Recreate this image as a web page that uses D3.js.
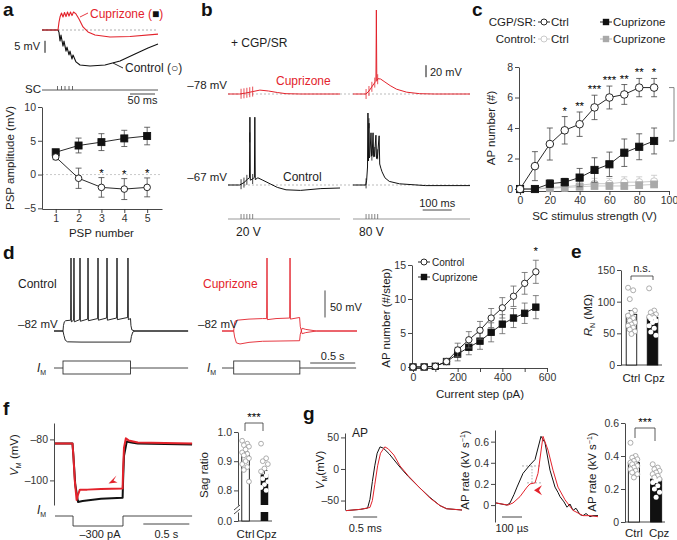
<!DOCTYPE html>
<html>
<head>
<meta charset="utf-8">
<script src="https://cdn.jsdelivr.net/npm/d3@7/dist/d3.min.js"></script>
<style>
html,body{margin:0;padding:0;background:#fff;}
svg{display:block;}
</style>
</head>
<body>
<svg id="fig" width="677" height="540"></svg>
<script>
// ======================= DATA =======================
// Panel a : PSP amplitudes
const pspNumber = [1, 2, 3, 4, 5];
const pspCpz = [3.3, 4.3, 4.8, 5.35, 5.7];
const pspCpzErr = [0.4, 1.1, 1.25, 1.2, 1.3];
const pspCtrl = [2.6, -0.55, -1.9, -2.15, -1.9];
const pspCtrlErr = [0.4, 1.5, 1.45, 1.55, 1.4];
const pspSig = ["", "", "*", "*", "*"];
const pspYTicks = [-5, 0, 5, 10];
// Panel a traces (ms, mV relative to baseline)
const scStimA = [31, 39, 46, 54, 61];
const traceA_cpz = [[0,0],[32,0],[34,3.3],[36,5.4],[39,7.1],[42,5.4],[45,7.3],[48,5.6],[51,7.5],[54,5.8],[57,7.5],[60,6.0],[63,7.5],[68,6.7],[74,4.6],[82,1.3],[92,-0.8],[106,-2.1],[136,-2.9],[176,-2.7],[232,-1.7]];
const traceA_ctrl = [[0,0],[32,0],[34,-1],[36,-4.6],[38,-2.1],[42,-6.7],[44,-4.6],[48,-8.8],[50,-7.1],[54,-10.4],[56,-8.8],[60,-12.1],[62,-10.4],[68,-13.3],[76,-14.6],[96,-15],[126,-14.6],[156,-12.9],[186,-10],[212,-7.5],[232,-5.8]];

// Panel b traces (ms, mV relative to resting potential)
const scStimB = [45, 55, 65, 75, 85];
const traceB_cpz20 = [[0,0],[40,0],[60,1.5],[85,4],[110,6.5],[140,5],[170,2.5],[200,0.5],[250,0],[386,0]];
const traceB_cpz80 = [[0,0],[45,0],[55,5],[65,12],[75,19],[79,21],[80.5,140],[82,22],[86,25.5],[95,25],[110,20],[128,14],[150,8],[185,3],[230,0.5],[280,0],[403,0]];
const traceB_ctl20 = [[0,0],[40,0],[55,4],[68,10],[74,12],[75.5,113],[77,8],[85,10],[91,13],[92.5,113],[94,9],[103,12],[120,8],[145,2],[170,-4],[200,-8],[250,-9],[320,-6],[386,-5]];
const traceB_ctl80 = [[0,0],[44,0],[47,8],[50,30],[51.5,120],[53,40],[55,103],[56.5,45],[58,48],[62,87],[64,48],[66,50],[69,87],[71,47],[74,48],[79,83],[81,44],[84,45],[90,82],[92,35],[96,28],[100,22],[110,12],[125,6],[160,2],[250,-1],[403,-1]];

// Panel c : AP number vs SC stimulus
const stimVolts = [0, 10, 20, 30, 40, 50, 60, 70, 80, 90];
const cgpCtrl = [0, 1.5, 2.95, 3.85, 4.25, 5.35, 6.0, 6.2, 6.65, 6.65];
const cgpCtrlErr = [0, 0.95, 1.05, 0.9, 0.8, 0.8, 0.75, 0.65, 0.6, 0.6];
const cgpCpz = [0, 0, 0.35, 0.45, 0.75, 1.25, 1.62, 2.38, 2.77, 3.15];
const cgpCpzErr = [0, 0, 0.25, 0.25, 0.6, 0.8, 0.8, 0.9, 0.85, 0.85];
const conCtrl = [0, 0, 0.1, 0.15, 0.25, 0.35, 0.35, 0.45, 0.45, 0.5];
const conCtrlErr = [0, 0, 0.25, 0.3, 0.3, 0.35, 0.35, 0.35, 0.35, 0.4];
const conCpz = [0, 0, 0.05, 0.1, 0.15, 0.2, 0.2, 0.2, 0.25, 0.3];
const conCpzErr = [0, 0, 0.1, 0.1, 0.15, 0.15, 0.15, 0.2, 0.2, 0.2];
const stimSig = ["", "", "", "*", "**", "***", "***", "**", "**", "*"];

// Panel d traces (s, mV)
const stepCtl = [0.1, 0.85];
const stepCpzT = [0.13, 0.865];
const traceD_ctlUp = [[0,-82],[0.1,-82],[0.105,-72],[0.115,-65],[0.13,-63],[0.185,-62],[0.189,53],[0.193,-65],[0.218,-62],[0.222,53],[0.226,-65],[0.285,-61],[0.289,53],[0.293,-64],[0.374,-60],[0.378,53],[0.382,-63],[0.485,-59],[0.489,53],[0.493,-62],[0.585,-58],[0.589,53],[0.593,-62],[0.696,-58],[0.7,53],[0.704,-61],[0.818,-57],[0.822,53],[0.826,-61],[0.85,-59],[0.855,-72],[0.865,-80],[0.9,-82],[1.49,-82]];
const traceD_ctlDn = [[0,-82],[0.1,-82],[0.11,-90],[0.125,-99],[0.15,-102],[0.3,-102.5],[0.85,-102.5],[0.86,-92],[0.875,-84],[0.9,-82],[1.49,-82]];
const traceD_cpzUp = [[0,-82],[0.13,-82],[0.135,-72],[0.145,-64],[0.17,-62],[0.3,-60],[0.45,-59],[0.496,-59],[0.5,53],[0.504,-61],[0.6,-59],[0.752,-58],[0.756,53],[0.76,-60],[0.862,-57],[0.87,-74],[0.89,-87],[0.93,-85],[1.05,-82],[1.5,-82]];
const traceD_cpzDn = [[0,-82],[0.13,-82],[0.14,-93],[0.16,-104],[0.2,-106],[0.3,-103],[0.45,-101],[0.862,-100],[0.87,-88],[0.89,-77],[0.93,-79],[1.05,-82],[1.5,-82]];

// Panel d right : AP number vs current step
const stepPA = [0, 50, 100, 150, 200, 250, 300, 350, 400, 450, 500, 550];
const stepCtrl = [0, 0, 0.1, 0.8, 2.5, 4.0, 5.4, 7.2, 8.7, 10.4, 12.3, 14.0];
const stepCtrlErr = [0, 0, 0.1, 0.4, 1.0, 1.2, 1.3, 1.4, 1.5, 1.5, 1.6, 1.7];
const stepCpz = [0, 0, 0.1, 0.8, 1.9, 2.9, 3.8, 5.1, 6.3, 7.2, 7.9, 8.8];
const stepCpzErr = [0, 0, 0.1, 0.4, 1.0, 1.1, 1.2, 1.4, 1.4, 1.4, 1.5, 1.7];
const stepSig = ["", "", "", "", "", "", "", "", "", "", "", "*"];

// Panel e : input resistance
const rnGroups = ["Ctrl", "Cpz"];
const rnMean = [80, 75];
const rnErr = [6, 4];
const rnCtrl = [122, 118, 104, 86, 82, 78, 74, 70, 67, 64, 62, 59, 56, 53, 49];
const rnCpz = [121, 86, 83, 80, 77, 76, 75, 73, 70, 67, 62, 58, 52, 47];

// Panel f traces (s, mV)
const stepF = [0.196, 0.739];
const traceF_ctl = [[0,-82],[0.19,-82],[0.2,-88],[0.22,-102],[0.25,-110.5],[0.3,-110],[0.5,-109],[0.735,-108.5],[0.74,-100],[0.75,-88],[0.78,-81],[0.83,-81.5],[0.9,-82],[1.49,-82.5]];
const traceF_cpz = [[0,-82],[0.19,-82],[0.2,-88],[0.215,-100],[0.235,-109.5],[0.25,-107],[0.27,-104.5],[0.35,-104.5],[0.5,-104.2],[0.735,-104],[0.74,-95],[0.75,-84],[0.77,-79.5],[0.8,-80.5],[0.9,-81.5],[1.49,-82]];
// Panel f : sag ratio
const sagMean = [0.92, 0.855];
const sagErr = [0.012, 0.013];
const sagCtrl = [0.97, 0.96, 0.955, 0.95, 0.94, 0.93, 0.925, 0.92, 0.91, 0.90, 0.89, 0.88, 0.87, 0.83];
const sagCpz = [0.96, 0.91, 0.90, 0.89, 0.875, 0.865, 0.85, 0.84, 0.83, 0.82, 0.81, 0.80];

// Panel g traces
const traceG_ctl = [[0,-66],[0.3,-64],[0.45,-62],[0.5,-48],[0.55,-20],[0.6,5],[0.65,25],[0.71,35],[0.78,33],[0.9,24],[1.125,3],[1.3,-12],[1.54,-30],[1.75,-45],[1.96,-58],[2.1,-63],[2.42,-65]];
const traceG_cpz = [[0,-66],[0.3,-64],[0.5,-61],[0.55,-50],[0.6,-25],[0.66,5],[0.72,25],[0.81,35],[0.88,32],[1.0,22],[1.125,5],[1.3,-11],[1.54,-30],[1.75,-46],[1.96,-58],[2.1,-63],[2.42,-65]];
const rateG_ctl = [[0,0.02],[55,0.0],[70,0.02],[90,0.1],[105,0.17],[135,0.3],[170,0.38],[195,0.43],[225,0.65],[245,0.59],[270,0.33],[295,0.17],[310,0.12],[320,0.08],[340,0.03],[355,-0.02],[370,0.01],[385,-0.05],[400,-0.03],[420,-0.09],[435,-0.1],[450,-0.08],[470,-0.11],[485,-0.1],[510,-0.1]];
const rateG_cpz = [[0,0.02],[60,0.0],[85,0.02],[120,0.08],[155,0.17],[170,0.2],[195,0.21],[210,0.3],[235,0.65],[260,0.52],[285,0.33],[310,0.17],[345,0.05],[385,-0.05],[435,-0.1],[470,-0.1],[510,-0.11]];
const rateMarks = [0.37, 0.21];
// Panel g : AP rate bars
const apMean = [0.36, 0.26];
const apErr = [0.015, 0.015];
const apCtrl = [0.48, 0.40, 0.39, 0.38, 0.37, 0.36, 0.35, 0.35, 0.34, 0.33, 0.32, 0.31, 0.30, 0.29, 0.27];
const apCpz = [0.35, 0.33, 0.32, 0.31, 0.30, 0.29, 0.28, 0.27, 0.26, 0.25, 0.24, 0.22, 0.20, 0.18, 0.15];

// ======================= DRAWING =======================
const FONT = "'Liberation Sans', Arial, Helvetica, sans-serif";
const svg = d3.select("#fig").attr("font-family", FONT);
svg.append("rect").attr("width", 677).attr("height", 540).attr("fill", "#fff");
const RED = "#e3232c", AX = "#333", TX = "#1d1d1d", GL = "#c4c4c4";

function text(x, y, s, o = {}) {
  const t = svg.append("text").attr("x", x).attr("y", y)
    .attr("font-size", o.size || 11).attr("fill", o.fill || TX)
    .attr("text-anchor", o.anchor || "start").text(s);
  if (o.weight) t.attr("font-weight", o.weight);
  return t;
}
function rich(x, y, parts, o = {}) {
  const size = o.size || 11;
  const t = svg.append("text").attr("font-size", size).attr("fill", o.fill || TX)
    .attr("text-anchor", o.anchor || "start");
  if (o.rotate) t.attr("transform", `translate(${x},${y}) rotate(-90)`);
  else t.attr("x", x).attr("y", y);
  parts.forEach(p => {
    const s = t.append("tspan").text(p.t);
    if (p.i) s.attr("font-style", "italic");
    if (p.fs) s.attr("font-size", p.fs);
    if (p.dy) s.attr("dy", p.dy);
    if (p.fill) s.attr("fill", p.fill);
  });
  return t;
}
function hline(x1, x2, y, c, w, dash) {
  const l = svg.append("line").attr("x1", x1).attr("x2", x2).attr("y1", y).attr("y2", y)
    .attr("stroke", c || AX).attr("stroke-width", w || 1);
  if (dash) l.attr("stroke-dasharray", dash);
  return l;
}
function vline(x, y1, y2, c, w) {
  return svg.append("line").attr("x1", x).attr("x2", x).attr("y1", y1).attr("y2", y2)
    .attr("stroke", c || AX).attr("stroke-width", w || 1);
}
function trace(pts, xs, ys, color, w) {
  svg.append("path").datum(pts)
    .attr("d", d3.line().x(d => xs(d[0])).y(d => ys(d[1])))
    .attr("fill", "none").attr("stroke", color).attr("stroke-width", w || 1)
    .attr("stroke-linejoin", "round");
}
function interp(pts, t) {
  for (let i = 1; i < pts.length; i++) {
    if (t <= pts[i][0]) {
      const a = pts[i - 1], b = pts[i];
      return a[1] + (b[1] - a[1]) * (t - a[0]) / (b[0] - a[0]);
    }
  }
  return pts[pts.length - 1][1];
}
function styleAxis(g, fs) {
  g.attr("font-family", FONT).attr("font-size", fs || 10.5);
  g.select(".domain").attr("stroke", AX).attr("stroke-width", 0.9);
  g.selectAll(".tick line").attr("stroke", AX).attr("stroke-width", 0.9);
  g.selectAll(".tick text").attr("fill", "#333");
}
function yAxis(scale, x, ticks, fmt, fs) {
  const g = svg.append("g").attr("transform", `translate(${x},0)`)
    .call(d3.axisLeft(scale).tickValues(ticks).tickSize(4).tickPadding(2).tickSizeOuter(0)
      .tickFormat(fmt || d3.format("d")));
  styleAxis(g, fs);
  return g;
}
function xAxis(scale, y, ticks, fmt, fs) {
  const g = svg.append("g").attr("transform", `translate(0,${y})`)
    .call(d3.axisBottom(scale).tickValues(ticks).tickSize(4).tickPadding(2).tickSizeOuter(0)
      .tickFormat(fmt || d3.format("d")));
  styleAxis(g, fs);
  return g;
}
function series(xs, ys, X, Y, E, o) {
  const g = svg.append("g");
  X.forEach((x, i) => {
    if (!E || !E[i]) return;
    const cx = xs(x), y1 = ys(Y[i] - E[i]), y2 = ys(Y[i] + E[i]);
    g.append("line").attr("x1", cx).attr("x2", cx).attr("y1", y1).attr("y2", y2)
      .attr("stroke", o.err).attr("stroke-width", 0.8);
    [y1, y2].forEach(yy => g.append("line").attr("x1", cx - o.cap).attr("x2", cx + o.cap)
      .attr("y1", yy).attr("y2", yy).attr("stroke", o.err).attr("stroke-width", 0.8));
  });
  g.append("path").datum(X.map((x, i) => [x, Y[i]]))
    .attr("d", d3.line().x(d => xs(d[0])).y(d => ys(d[1])))
    .attr("fill", "none").attr("stroke", o.line).attr("stroke-width", 0.9);
  g.selectAll(".m").data(X.map((x, i) => [x, Y[i]])).enter().append(o.shape === "circle" ? "circle" : "rect")
    .each(function (d) {
      const el = d3.select(this), cx = xs(d[0]), cy = ys(d[1]);
      if (o.shape === "circle") el.attr("cx", cx).attr("cy", cy).attr("r", o.size);
      else el.attr("x", cx - o.size).attr("y", cy - o.size).attr("width", 2 * o.size).attr("height", 2 * o.size);
      el.attr("fill", o.fill).attr("stroke", o.stroke).attr("stroke-width", o.sw || 0.9);
    });
}
function legendSym(x, y, shape, color, fill) {
  hline(x - 6, x + 6, y, color, 0.9);
  if (shape === "circle") svg.append("circle").attr("cx", x).attr("cy", y).attr("r", 3).attr("fill", fill).attr("stroke", color).attr("stroke-width", 0.9);
  else svg.append("rect").attr("x", x - 3.2).attr("y", y - 3.2).attr("width", 6.4).attr("height", 6.4).attr("fill", fill);
}
function jitter(i) { return ((i * 3) % 5 - 2) * 1.7; }

// panel letters
[["a", 3, 16], ["b", 201, 16], ["c", 472, 16], ["d", 3, 259], ["e", 571, 258], ["f", 3, 415], ["g", 303, 420]]
  .forEach(p => text(p[1], p[2], p[0], { size: 19, weight: "bold", fill: "#111" }));

// ---------------- Panel a : traces ----------------
const xTa = d3.scaleLinear().domain([0, 232]).range([42, 158]);
const yTa = d3.scaleLinear().domain([0, 10]).range([30, 6]);
hline(xTa(0), xTa(232), yTa(0), "#999", 0.8, "2,2");
trace(traceA_ctrl, xTa, yTa, "#111", 1.1);
trace(traceA_cpz, xTa, yTa, RED, 1.1);
vline(45, yTa(-4.5), yTa(-9.5), "#111", 1);
text(40, 50, "5 mV", { size: 11, anchor: "end" });
rich(90, 18, [{ t: "Cuprizone (", fill: RED }, { t: "■", fill: "#111" }, { t: ")", fill: RED }], { size: 12 });
svg.append("line").attr("x1", 80).attr("y1", 17).attr("x2", 88).attr("y2", 13).attr("stroke", RED).attr("stroke-width", 0.9);
text(125, 72, "Control (○)", { size: 12 });
svg.append("line").attr("x1", 113).attr("y1", 63).attr("x2", 123).attr("y2", 68).attr("stroke", "#111").attr("stroke-width", 0.9);
text(25, 93, "SC", { size: 11.5 });
hline(xTa(0), xTa(232), 90, "#444", 0.9);
scStimA.forEach(t => vline(xTa(t), 86, 90, "#444", 0.8));
hline(xTa(176), xTa(226), 94, "#444", 1);
text(xTa(201), 104, "50 ms", { size: 11, anchor: "middle" });

// ---------------- Panel a : PSP plot ----------------
const xA = d3.scaleLinear().domain([0.4, 5.65]).range([42, 162]);
const yA = d3.scaleLinear().domain([-5.1, 10]).range([209, 107]);
hline(xA(0.4), xA(5.65), yA(0), "#bbb", 0.8, "2,2");
yAxis(yA, 42, pspYTicks);
xAxis(xA, 209, pspNumber);
series(xA, yA, pspNumber, pspCpz, pspCpzErr, { err: "#444", cap: 3, line: "#111", shape: "rect", size: 3.5, fill: "#111", stroke: "#111" });
series(xA, yA, pspNumber, pspCtrl, pspCtrlErr, { err: "#444", cap: 3, line: "#111", shape: "circle", size: 3.3, fill: "#fff", stroke: "#111" });
pspNumber.forEach((n, i) => { if (pspSig[i]) text(xA(n), yA(pspCtrl[i] + pspCtrlErr[i]) - 1, pspSig[i], { size: 11.5, anchor: "middle", fill: "#000" }); });
text(xA(3), 237, "PSP number", { size: 11.5, anchor: "middle" });
rich(14, 158, [{ t: "PSP amplitude (mV)" }], { size: 11.5, anchor: "middle", rotate: true });

// ---------------- Panel b ----------------
const xB1 = d3.scaleLinear().domain([0, 386]).range([228, 340]);
const xB2 = d3.scaleLinear().domain([0, 403]).range([353, 470]);
const yBr = d3.scaleLinear().domain([0, 100]).range([94, 34]);
const yBk = d3.scaleLinear().domain([0, 100]).range([185, 125]);
hline(228, 470, yBr(0), "#aaa", 0.8, "2,2");
hline(228, 470, yBk(0), "#aaa", 0.8, "2,2");
function bTrace(pts, xs, ys, color) {
  trace(pts, xs, ys, color, 1);
  scStimB.forEach(t => { const v = interp(pts, t); vline(xs(t), ys(v) - 5, ys(v) + 5, color, 0.8); });
}
bTrace(traceB_cpz20, xB1, yBr, RED);
bTrace(traceB_cpz80, xB2, yBr, RED);
bTrace(traceB_ctl20, xB1, yBk, "#111");
bTrace(traceB_ctl80, xB2, yBk, "#111");
text(231, 47, "+ CGP/SR", { size: 12 });
text(227, 89, "\u201378 mV", { size: 11.5, anchor: "end" });
text(227, 181, "\u201367 mV", { size: 11.5, anchor: "end" });
text(276, 85, "Cuprizone", { size: 12, fill: RED });
text(283, 181, "Control", { size: 12 });
vline(426, yBr(48), yBr(28), "#111", 1);
text(430, 76, "20 mV", { size: 11 });
hline(xB2(240), xB2(340), 210, "#444", 1);
text(xB2(290), 207, "100 ms", { size: 11, anchor: "middle" });
hline(228, 340, 219, "#999", 1.2);
hline(353, 470, 219, "#999", 1.2);
scStimB.forEach(t => { vline(xB1(t), 214, 219, "#666", 0.8); vline(xB2(t), 214, 219, "#666", 0.8); });
text(236, 236, "20 V", { size: 12 });
text(359, 236, "80 V", { size: 12 });

// ---------------- Panel c ----------------
const xC = d3.scaleLinear().domain([-0.7, 100]).range([519, 669]);
const yC = d3.scaleLinear().domain([-0.13, 8]).range([191, 67]);
yAxis(yC, 519, [0, 2, 4, 6, 8]);
xAxis(xC, 191, [0, 20, 40, 60, 80, 100]);
series(xC, yC, stimVolts, conCtrl, conCtrlErr, { err: GL, cap: 3, line: GL, shape: "circle", size: 3.6, fill: "#fff", stroke: GL });
series(xC, yC, stimVolts, conCpz, conCpzErr, { err: GL, cap: 3, line: GL, shape: "rect", size: 3.4, fill: "#a9a9a9", stroke: "#a9a9a9" });
series(xC, yC, stimVolts, cgpCpz, cgpCpzErr, { err: "#444", cap: 3, line: "#111", shape: "rect", size: 3.6, fill: "#111", stroke: "#111" });
series(xC, yC, stimVolts, cgpCtrl, cgpCtrlErr, { err: "#444", cap: 3, line: "#111", shape: "circle", size: 3.8, fill: "#fff", stroke: "#111" });
stimVolts.forEach((v, i) => { if (stimSig[i]) text(xC(v), yC(cgpCtrl[i] + cgpCtrlErr[i]) - 2, stimSig[i], { size: 11.5, anchor: "middle", fill: "#000" }); });
// bracket
const brX = 674;
vline(brX, yC(cgpCtrl[9]), yC(cgpCpz[9]), "#777", 0.9);
hline(brX - 5, brX, yC(cgpCtrl[9]), "#777", 0.9);
hline(brX - 5, brX, yC(cgpCpz[9]), "#777", 0.9);
text(xC(50), 220, "SC stimulus strength (V)", { size: 11.5, anchor: "middle" });
rich(495, 128, [{ t: "AP number (#)" }], { size: 11.5, anchor: "middle", rotate: true });
// legend
text(536, 26, "CGP/SR:", { size: 11.5, anchor: "end" });
text(536, 43, "Control:", { size: 11.5, anchor: "end" });
legendSym(544, 22, "circle", "#111", "#fff"); text(551, 26, "Ctrl", { size: 11.5 });
legendSym(606, 22, "rect", "#111", "#111"); text(613, 26, "Cuprizone", { size: 11.5 });
legendSym(544, 39, "circle", GL, "#fff"); text(551, 43, "Ctrl", { size: 11.5 });
legendSym(606, 39, "rect", "#a9a9a9", "#a9a9a9"); text(613, 43, "Cuprizone", { size: 11.5 });

// ---------------- Panel d : traces ----------------
const xDc = d3.scaleLinear().domain([0, 1.5]).range([54, 189]);
const xDr = d3.scaleLinear().domain([0, 1.5]).range([222, 357]);
const yDt = d3.scaleLinear().domain([-82, 53]).range([331, 258]);
trace(traceD_ctlDn, xDc, yDt, "#111", 0.9);
trace(traceD_ctlUp, xDc, yDt, "#111", 0.9);
trace(traceD_cpzDn, xDr, yDt, RED, 0.9);
trace(traceD_cpzUp, xDr, yDt, RED, 0.9);
text(18, 288, "Control", { size: 12 });
text(203, 288, "Cuprizone", { size: 12, fill: RED });
text(18, 328, "\u201382 mV", { size: 11.5 });
text(198, 328, "\u201382 mV", { size: 11.5 });
vline(325, yDt(-57), yDt(-7), "#444", 1);
text(330, 311, "50 mV", { size: 11 });
hline(xDr(0.98), xDr(1.48), 363, "#444", 1);
text(xDr(1.23), 360, "0.5 s", { size: 11, anchor: "middle" });
function imStep(xs, st, lx) {
  hline(xs(0), xs(st[0]), 368, "#333", 0.9);
  svg.append("rect").attr("x", xs(st[0])).attr("y", 361).attr("width", xs(st[1]) - xs(st[0])).attr("height", 13)
    .attr("fill", "none").attr("stroke", "#333").attr("stroke-width", 0.9);
  hline(xs(st[1]), xs(1.49), 368, "#333", 0.9);
  rich(lx, 372, [{ t: "I", i: true }, { t: "M", fs: 7, dy: 3 }], { size: 12 });
}
imStep(xDc, stepCtl, 37);
imStep(xDr, stepCpzT, 207);

// ---------------- Panel d : AP vs current ----------------
const xD = d3.scaleLinear().domain([0, 600]).range([413, 547]);
const yD = d3.scaleLinear().domain([-0.15, 15]).range([368, 265]);
yAxis(yD, 412, [0, 5, 10, 15]);
xAxis(xD, 368, [0, 100, 200, 300, 400, 500, 600], d => (d % 200 === 0 ? d : ""));
series(xD, yD, stepPA, stepCpz, stepCpzErr, { err: "#666", cap: 3, line: "#111", shape: "rect", size: 3.2, fill: "#111", stroke: "#111" });
series(xD, yD, stepPA, stepCtrl, stepCtrlErr, { err: "#666", cap: 3, line: "#111", shape: "circle", size: 3.2, fill: "#fff", stroke: "#111" });
stepPA.forEach((v, i) => { if (stepSig[i]) text(xD(v), yD(stepCtrl[i] + stepCtrlErr[i]) - 5, stepSig[i], { size: 11.5, anchor: "middle", fill: "#000" }); });
legendSym(424, 262, "circle", "#111", "#fff"); text(432, 265.5, "Control", { size: 10 });
legendSym(424, 277, "rect", "#111", "#111"); text(432, 280.5, "Cuprizone", { size: 10 });
text(480, 398, "Current step (pA)", { size: 11.5, anchor: "middle" });
rich(390, 318, [{ t: "AP number (#/step)" }], { size: 11.5, anchor: "middle", rotate: true });

// ---------------- Panel e ----------------
const yE = d3.scaleLinear().domain([0, 150]).range([365, 270]);
const xE = d3.scaleBand().domain(rnGroups).range([622, 662]).paddingInner(0.5).paddingOuter(0.2);
yAxis(yE, 621, [0, 50, 100, 150]);
hline(621, 662, 365, AX, 0.9);
function barPts(yS, xs, grp, mean, err, pts, filled, base) {
  const x0 = xs(grp), w = xs.bandwidth(), cx = x0 + w / 2;
  svg.append("rect").attr("x", x0).attr("y", yS(mean)).attr("width", w).attr("height", base - yS(mean))
    .attr("fill", filled ? "#111" : "#fff").attr("stroke", "#111").attr("stroke-width", 0.9);
  vline(cx, yS(mean + err), yS(mean), "#111", 0.8);
  hline(cx - 3, cx + 3, yS(mean + err), "#111", 0.8);
  pts.forEach((v, i) => {
    const inside = filled && v < mean;
    svg.append("circle").attr("cx", cx + jitter(i)).attr("cy", yS(v)).attr("r", 2.5)
      .attr("fill", "#fff").attr("stroke", inside ? "none" : "#999").attr("stroke-width", 0.8);
  });
}
barPts(yE, xE, "Ctrl", rnMean[0], rnErr[0], rnCtrl, false, 365);
barPts(yE, xE, "Cpz", rnMean[1], rnErr[1], rnCpz, true, 365);
text(xE("Ctrl") + xE.bandwidth() / 2, 382, "Ctrl", { size: 11.5, anchor: "middle" });
text(xE("Cpz") + xE.bandwidth() / 2 + 2, 382, "Cpz", { size: 11.5, anchor: "middle" });
text(642, 272, "n.s.", { size: 11, anchor: "middle" });
hline(631, 653, 276, "#333", 0.8); vline(631, 276, 280, "#333", 0.8); vline(653, 276, 280, "#333", 0.8);
rich(592, 315, [{ t: "R", i: true }, { t: "N", fs: 7, dy: 3 }, { t: " (M\u03A9)", dy: -3 }], { size: 11.5, anchor: "middle", rotate: true });

// ---------------- Panel f : traces ----------------
const xF = d3.scaleLinear().domain([0, 1.5]).range([55, 193]);
const yF = d3.scaleLinear().domain([-112, -72]).range([505, 423]);
yAxis(yF, 54, [-80, -100], d => "\u2013" + Math.abs(d));
trace(traceF_ctl, xF, yF, "#111", 2);
trace(traceF_cpz, xF, yF, RED, 2);
// arrowhead
const ah = [xF(0.625), yF(-100)];
svg.append("path").attr("d", `M${ah[0] - 4},${ah[1] + 3} L${ah[0] + 4},${ah[1] - 5} L${ah[0] + 1},${ah[1]} L${ah[0] + 5},${ah[1] + 2} Z`).attr("fill", RED);
rich(18, 455, [{ t: "V", i: true }, { t: "M", fs: 7, dy: 3 }, { t: " (mV)", dy: -3 }], { size: 11.5, anchor: "middle", rotate: true });
svg.append("path").attr("d", `M${xF(0)},516 H${xF(stepF[0])} V526 H${xF(stepF[1])} V516 H${xF(1.49)}`)
  .attr("fill", "none").attr("stroke", "#333").attr("stroke-width", 0.9);
rich(37, 514, [{ t: "I", i: true }, { t: "M", fs: 7, dy: 3 }], { size: 12 });
text(100, 538, "\u2013300 pA", { size: 11, anchor: "middle" });
hline(xF(0.96), xF(1.46), 524, "#444", 1);
text(xF(1.21), 538, "0.5 s", { size: 11, anchor: "middle" });

// ---------------- Panel f : sag ratio ----------------
const ySag = d3.scaleLinear().domain([0.75, 1.0]).range([505, 432]);
const ySag0 = d3.scaleLinear().domain([0, 0.03]).range([521, 512]);
const xSag = d3.scaleBand().domain(rnGroups).range([238, 272]).paddingInner(0.6).paddingOuter(0.2);
yAxis(ySag, 238, [0.8, 0.9, 1.0], d3.format(".1f"));
yAxis(ySag0, 238, [0], d3.format(".1f"));
hline(238, 272, 521, AX, 0.9);
svg.append("line").attr("x1", 234).attr("y1", 510).attr("x2", 240).attr("y2", 505).attr("stroke", AX).attr("stroke-width", 0.9);
svg.append("line").attr("x1", 234).attr("y1", 514).attr("x2", 240).attr("y2", 509).attr("stroke", AX).attr("stroke-width", 0.9);
[["Ctrl", 0, sagCtrl, false], ["Cpz", 1, sagCpz, true]].forEach(([g, k, pts, filled]) => {
  const x0 = xSag(g), w = xSag.bandwidth(), cx = x0 + w / 2;
  if (filled) {
    svg.append("rect").attr("x", x0).attr("y", ySag(sagMean[k])).attr("width", w).attr("height", 505 - ySag(sagMean[k])).attr("fill", "#111");
    svg.append("rect").attr("x", x0).attr("y", 512).attr("width", w).attr("height", 9).attr("fill", "#111");
  } else {
    svg.append("rect").attr("x", x0).attr("y", ySag(sagMean[k])).attr("width", w).attr("height", 521 - ySag(sagMean[k]))
      .attr("fill", "#fff").attr("stroke", "#111").attr("stroke-width", 0.9);
  }
  vline(cx, ySag(sagMean[k] + sagErr[k]), ySag(sagMean[k]), "#111", 0.8);
  hline(cx - 3, cx + 3, ySag(sagMean[k] + sagErr[k]), "#111", 0.8);
  pts.forEach((v, i) => {
    const inside = filled && v < sagMean[k];
    svg.append("circle").attr("cx", cx + jitter(i)).attr("cy", ySag(v)).attr("r", 2.4)
      .attr("fill", "#fff").attr("stroke", inside ? "none" : "#999").attr("stroke-width", 0.8);
  });
  text(cx + (k ? 2 : 0), 538, g, { size: 11.5, anchor: "middle" });
});
text(254, 421, "***", { size: 11.5, anchor: "middle", fill: "#000" });
hline(245, 263, 423, "#333", 0.8); vline(245, 423, 431, "#333", 0.8); vline(263, 423, 431, "#333", 0.8);
rich(208, 475, [{ t: "Sag ratio" }], { size: 11.5, anchor: "middle", rotate: true });

// ---------------- Panel g : AP ----------------
const xG = d3.scaleLinear().domain([0, 2.42]).range([346, 462]);
const yG = d3.scaleLinear().domain([-65, 57]).range([510, 433]);
yAxis(yG, 345, [50, 0, -50], d => d < 0 ? "\u2013" + Math.abs(d) : d);
trace(traceG_ctl, xG, yG, "#111", 1);
trace(traceG_cpz, xG, yG, RED, 1);
text(352, 437, "AP", { size: 12 });
hline(xG(0.15), xG(0.65), 517, "#444", 1);
text(xG(0.4), 532, "0.5 ms", { size: 11, anchor: "middle" });
rich(324, 470, [{ t: "V", i: true }, { t: "M", fs: 7, dy: 3 }, { t: "(mV)", dy: -3 }], { size: 11.5, anchor: "middle", rotate: true });

// ---------------- Panel g : AP rate trace ----------------
const xR = d3.scaleLinear().domain([0, 510]).range([496, 598]);
const yR = d3.scaleLinear().domain([-0.16, 0.71]).range([522, 430]);
const rfmt = d => (d === 0 ? "0" : d3.format(".1f")(d));
yAxis(yR, 495, [0, 0.2, 0.4, 0.6], rfmt);
hline(xR(130), xR(225), yR(rateMarks[0]), "#999", 0.8, "2,2");
hline(xR(155), xR(225), yR(rateMarks[1]), "#999", 0.8, "2,2");
svg.append("line").attr("x1", xR(180)).attr("x2", xR(180)).attr("y1", yR(rateMarks[0])).attr("y2", yR(rateMarks[1]))
  .attr("stroke", "#999").attr("stroke-width", 0.8).attr("stroke-dasharray", "1.5,1.5");
trace(rateG_ctl, xR, yR, "#111", 1);
trace(rateG_cpz, xR, yR, RED, 1);
const ra = [xR(190), yR(0.14)];
svg.append("path").attr("d", `M${ra[0]},${ra[1]} L${ra[0] + 8},${ra[1] - 5} L${ra[0] + 5},${ra[1]} L${ra[0] + 8},${ra[1] + 5} Z`).attr("fill", RED);
hline(xR(30), xR(130), 517, "#444", 1);
text(xR(80), 532, "100 \u00B5s", { size: 11, anchor: "middle" });
rich(469, 470, [{ t: "AP rate (kV s" }, { t: "\u22121", fs: 7, dy: -4 }, { t: ")", dy: 4 }], { size: 11.5, anchor: "middle", rotate: true });

// ---------------- Panel g : AP rate bars ----------------
const yAP = d3.scaleLinear().domain([0, 0.6]).range([522, 423]);
const xAP = d3.scaleBand().domain(rnGroups).range([625, 665]).paddingInner(0.5).paddingOuter(0.15);
yAxis(yAP, 625, [0, 0.2, 0.4, 0.6], rfmt);
hline(625, 665, 522, AX, 0.9);
barPts(yAP, xAP, "Ctrl", apMean[0], apErr[0], apCtrl, false, 522);
barPts(yAP, xAP, "Cpz", apMean[1], apErr[1], apCpz, true, 522);
text(xAP("Ctrl") + xAP.bandwidth() / 2, 537, "Ctrl", { size: 11.5, anchor: "middle" });
text(xAP("Cpz") + xAP.bandwidth() / 2 + 3, 537, "Cpz", { size: 11.5, anchor: "middle" });
text(645, 426, "***", { size: 11.5, anchor: "middle", fill: "#000" });
hline(635, 655, 428, "#333", 0.8); vline(635, 428, 438, "#333", 0.8); vline(655, 428, 441, "#333", 0.8);
rich(596, 472, [{ t: "AP rate (kV s" }, { t: "\u22121", fs: 7, dy: -4 }, { t: ")", dy: 4 }], { size: 11.5, anchor: "middle", rotate: true });
</script>
</body>
</html>
